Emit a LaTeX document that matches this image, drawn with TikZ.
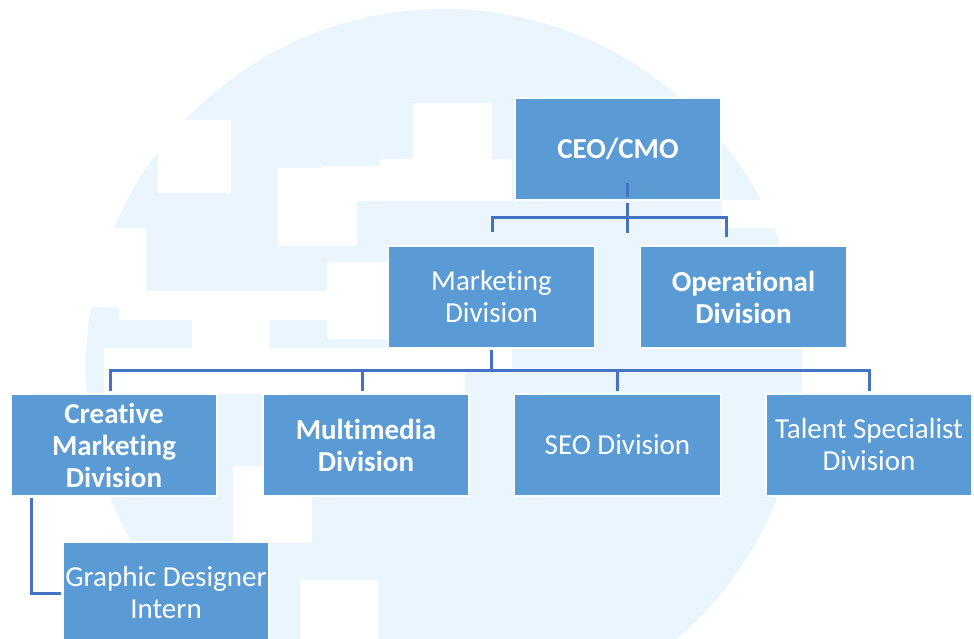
\documentclass[tikz,border=0pt]{standalone}
\usepackage{fontspec}
\setmainfont{Carlito}[Ligatures={NoCommon}]
\definecolor{bgblue}{RGB}{235,245,253}
\definecolor{boxblue}{RGB}{91,155,213}
\definecolor{connblue}{RGB}{68,114,196}
\begin{document}
\begin{tikzpicture}[x=1pt,y=-1pt,
  box/.style={rectangle, fill=boxblue, draw=white, line width=1.5pt,
    minimum width=206pt, minimum height=102pt, inner sep=0pt,
    text=white, align=center, font=\fontsize{29}{32}\selectfont},
  boldbox/.style={box, font=\fontsize{29}{32}\selectfont\bfseries},
  conn/.style={draw=connblue, line width=3pt},
  whiteblk/.style={fill=white}]
\useasboundingbox (0,0) rectangle (974,638);
\begin{scope}
  \clip (0,0) rectangle (974,638);
  \fill[white] (0,0) rectangle (974,638);
  \fill[bgblue] (444,367) circle[radius=358pt];
  \fill[whiteblk] (158,120) rectangle (231,193);
  \fill[whiteblk] (278,168) rectangle (357,246);
  \fill[whiteblk] (321,166) rectangle (380,201);
  \fill[whiteblk] (380,159) rectangle (512,201);
  \fill[whiteblk] (413,103) rectangle (492,159);
  \fill[whiteblk] (721,200) rectangle (800,228);
  \fill[whiteblk] (40,228) rectangle (146,291);
  \fill[whiteblk] (40,291) rectangle (327,307);
  \fill[whiteblk] (119,307) rectangle (327,320);
  \fill[whiteblk] (327,262) rectangle (390,339);
  \fill[whiteblk] (192,320) rectangle (270,348);
  \fill[whiteblk] (104,348) rectangle (465,394);
  \fill[whiteblk] (465,348) rectangle (512,372);
  \fill[whiteblk] (233,466) rectangle (263,543);
  \fill[whiteblk] (233,496) rectangle (312,543);
  \fill[whiteblk] (300,580) rectangle (378,640);
\end{scope}
\begin{scope}
  \clip (0,0) rectangle (974,638);
  \node[boldbox] (ceo) at (618,149) {CEO/CMO};
  \node[box]     (mkt) at (491.5,297) {Market\kern0pt ing\\Division};
  \node[boldbox] (ops) at (743.5,297) {Operat\kern0pt ional\\Division};
  \node[boldbox] (cre) at (114,445) {Creative\\Market\kern0pt ing\\Division};
  \node[boldbox] (mul) at (366,445) {Multimedia\\Division};
  \node[box]     (seo) at (617.5,445) {SEO Division};
  \node[box]     (tal) at (869,445) {Talent Specialist\\Division};
  \node[box]     (gdi) at (166,593) {Graphic Designer\\Intern};
\end{scope}
% connector points
\coordinate (ceoT1) at (627,183);
\coordinate (ceoT2) at (627,197);
\coordinate (ceoB)  at (627,203);
\coordinate (ceoE)  at (627,233);
\coordinate (busAL) at (492,217);
\coordinate (busAR) at (726,217);
\coordinate (mktIn) at (492,232);
\coordinate (opsIn) at (726,237);
\coordinate (mktOut) at (491,350);
\coordinate (busB)  at (491,370);
\coordinate (creIn) at (110,391);
\coordinate (mulIn) at (362,391);
\coordinate (seoIn) at (617,391);
\coordinate (talIn) at (869,391);
\coordinate (creOut) at (31,498);
\coordinate (gdiIn) at (61,593);
\draw[conn] (ceoT1) -- (ceoT2);
\draw[conn] (ceoB) -- (ceoE);
\draw[conn] (mktIn) -- (busAL) -- (busAR) -- (opsIn);
\draw[conn] (mktOut) -- (busB);
\draw[conn] (creIn) |- (talIn |- busB) -- (talIn);
\draw[conn] (mulIn) -- (mulIn |- busB);
\draw[conn] (seoIn) -- (seoIn |- busB);
\draw[conn] (creOut) |- (gdiIn);
\end{tikzpicture}
\end{document}
